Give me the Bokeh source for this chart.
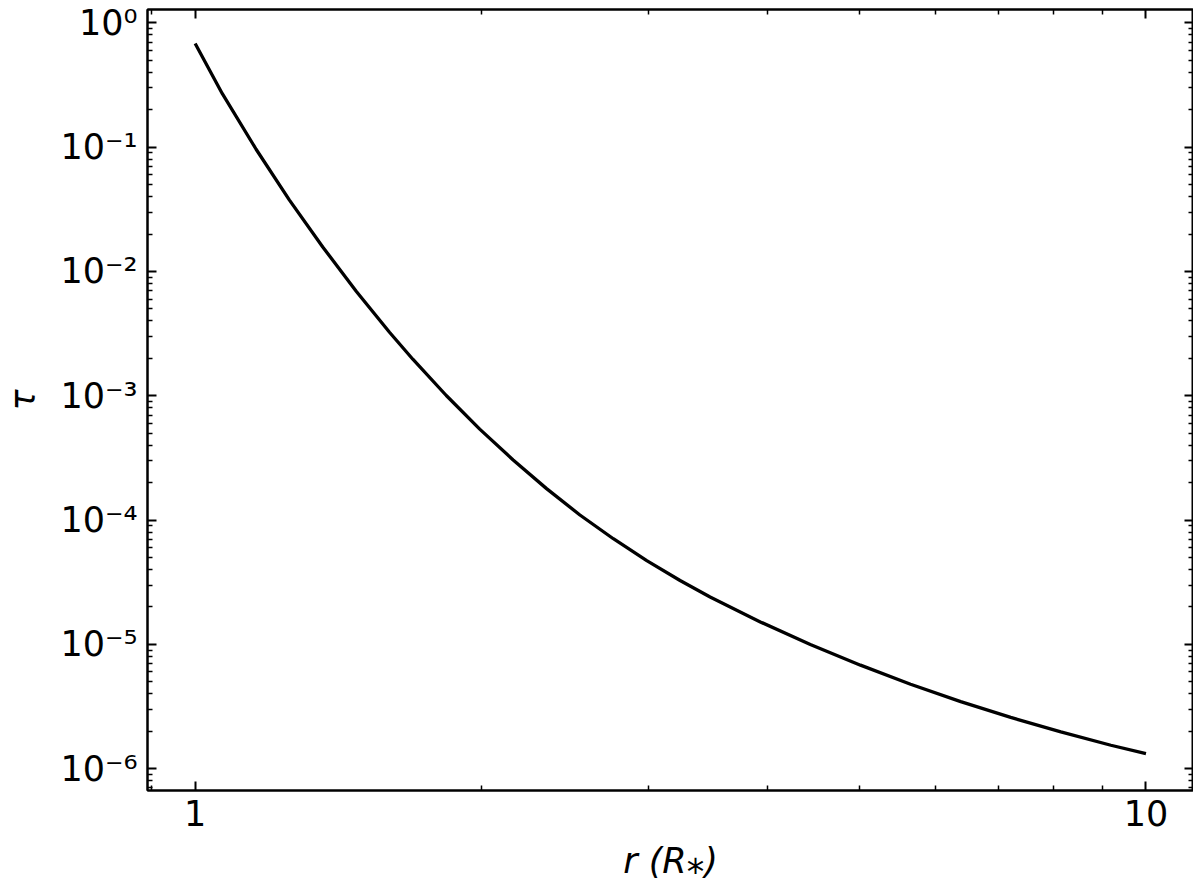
from bokeh.plotting import figure
from bokeh.models import Range1d, LogAxis, FixedTicker
from bokeh.embed import file_html
from bokeh.resources import INLINE

# data (r in stellar radii, tau optical depth)
r_vals = [1.0, 1.068, 1.159, 1.256, 1.362, 1.477, 1.601, 1.694, 1.837, 1.992,
          2.160, 2.342, 2.539, 2.753, 2.985, 3.236, 3.480, 3.930, 4.436, 5.009,
          5.655, 6.385, 7.207, 8.137, 9.186, 10.0]
tau_vals = [0.681, 0.2692, 0.0962, 0.03767, 0.01574, 0.006934, 0.003243,
            0.001968, 0.001005, 5.395e-4, 3.041e-4, 1.791e-4, 1.099e-4,
            7.079e-5, 4.721e-5, 3.266e-5, 2.404e-5, 1.517e-5, 9.977e-6,
            6.808e-6, 4.786e-6, 3.467e-6, 2.588e-6, 1.977e-6, 1.545e-6,
            1.324e-6]

x_major = [1, 10]
x_labels = ["1", "10"]
y_major = [1e-6, 1e-5, 1e-4, 1e-3, 1e-2, 1e-1, 1.0]
y_labels = ["10\u207b\u2076", "10\u207b\u2075", "10\u207b\u2074", "10\u207b\u00b3",
            "10\u207b\u00b2", "10\u207b\u00b9", "10\u2070"]

x_minor = [0.9] + [k for k in range(2, 10)]
y_minor = [k * 10.0 ** n for n in range(-7, 1) for k in range(2, 10)]

FONT = "DejaVu Sans"

p = figure(width=1193, height=883, x_axis_type="log", y_axis_type="log",
           x_range=Range1d(0.891, 11.22), y_range=Range1d(6.68e-7, 1.28),
           output_backend="svg", toolbar_location=None,
           min_border_left=146, min_border_right=0, min_border_top=9,
           min_border_bottom=0)

p.line(r_vals, tau_vals, line_color="black", line_width=3.3)

p.xgrid.visible = False
p.ygrid.visible = False
p.outline_line_color = "black"
p.outline_line_width = 2
p.background_fill_color = "white"
p.border_fill_color = "white"


def style(ax):
    ax.axis_line_color = "black"
    ax.axis_line_width = 2
    ax.major_tick_line_color = "black"
    ax.minor_tick_line_color = "black"
    ax.major_tick_line_width = 2
    ax.minor_tick_line_width = 1.5
    ax.major_tick_in = 9
    ax.major_tick_out = 0
    ax.minor_tick_in = 5
    ax.minor_tick_out = 0
    ax.major_label_text_font = FONT
    ax.major_label_text_color = "black"
    ax.major_label_text_font_size = "35px"
    ax.axis_label_text_font = FONT
    ax.axis_label_text_color = "black"
    ax.axis_label_text_font_size = "35px"
    ax.axis_label_text_font_style = "italic"


xa = p.xaxis[0]
xa.ticker = FixedTicker(ticks=x_major, minor_ticks=x_minor)
style(xa)
xa.major_label_overrides = {t: s for t, s in zip(x_major, x_labels)}
xa.major_label_standoff = 9
xa.axis_label = "r (R\u204e)"
xa.axis_label_standoff = 12

ya = p.yaxis[0]
ya.ticker = FixedTicker(ticks=y_major, minor_ticks=y_minor)
style(ya)
ya.major_label_overrides = {t: s for t, s in zip(y_major, y_labels)}
ya.major_label_standoff = 10
ya.axis_label = "\u03c4"
ya.axis_label_standoff = 14

top = LogAxis(ticker=FixedTicker(ticks=x_major, minor_ticks=x_minor))
style(top)
top.major_label_text_font_size = "1px"
top.major_label_text_color = None
top.major_label_standoff = 0
p.add_layout(top, "above")

right = LogAxis(ticker=FixedTicker(ticks=y_major, minor_ticks=y_minor))
style(right)
right.major_label_text_font_size = "1px"
right.major_label_text_color = None
right.major_label_standoff = 0
p.add_layout(right, "right")

open("out.html", "w").write(file_html(p, INLINE))
